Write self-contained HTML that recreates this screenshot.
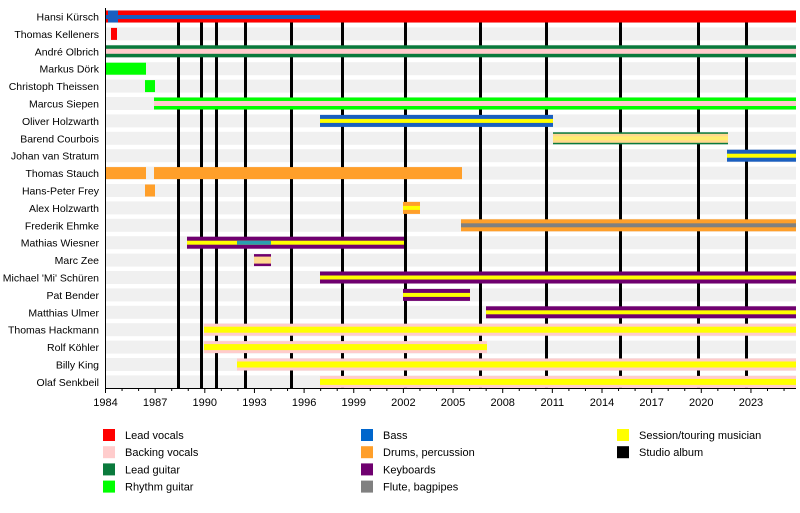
<!DOCTYPE html><html><head><style>body{margin:0;background:#fff}svg{display:block;font-family:"Liberation Sans",sans-serif}</style></head><body>
<svg width="800" height="513" xmlns="http://www.w3.org/2000/svg" id="s"></svg>
<script>
const s=document.getElementById('s');let h='';
const names=["Hansi Kürsch","Thomas Kelleners","André Olbrich","Markus Dörk","Christoph Theissen","Marcus Siepen","Oliver Holzwarth","Barend Courbois","Johan van Stratum","Thomas Stauch","Hans-Peter Frey","Alex Holzwarth","Frederik Ehmke","Mathias Wiesner","Marc Zee","Michael 'Mi' Schüren","Pat Bender","Matthias Ulmer","Thomas Hackmann","Rolf Köhler","Billy King","Olaf Senkbeil"];
const cy=i=>16.5+i*17.4;
names.forEach((n,i)=>{h+=`<rect x="105" y="${cy(i)-6.5}" width="691" height="13" fill="#f0f0f0"/>`;
h+=`<text x="99" y="${cy(i)+4}" font-size="10.5" text-anchor="end" fill="#000">${n}</text>`});
[178,201,216,245,291,342,405,480,546,620,698,746].forEach(x=>h+=`<rect x="${x-1}" y="22" width="3" height="366" fill="#000"/>`);
const C={r:"#ff0000",p:"#ffcccc",g:"#0a7a3c",lg:"#00ff00",b:"#1a5fc0",o:"#ff9f2a",pu:"#6f006f",gr:"#808080",y:"#ffff00",po:"#ffd890"};
function bar(i,x1,x2,c,inner,ih){const y=cy(i);h+=`<rect x="${x1}" y="${y-6}" width="${x2-x1}" height="12" fill="${C[c]}"/>`;
if(inner){ih=ih||4;h+=`<rect x="${x1}" y="${y-ih/2}" width="${x2-x1}" height="${ih}" fill="${C[inner]}"/>`}}
bar(0,105,796,'r');h+=`<rect x="105" y="${cy(0)-1.5}" width="215" height="4" fill="${C.b}"/><rect x="108" y="${cy(0)-6}" width="10" height="12" fill="${C.b}"/>`;
bar(1,111,117,'r');bar(2,105,796,'g','p',5);bar(3,105,146,'lg');bar(4,145,155,'lg');bar(5,154,796,'lg','p',5);
bar(6,320,553,'b','y');bar(7,553,728,'g','po',9);h+=`<rect x="553" y="${cy(7)-2}" width="175" height="4" fill="#ffee70"/>`;
bar(8,727,796,'b','y');bar(9,105,146,'o');bar(9,154,462,'o');bar(10,145,155,'o');bar(11,403,420,'o','y');
bar(12,461,796,'o','gr');bar(13,187,404,'pu','y');h+=`<rect x="237" y="${cy(13)-2}" width="34" height="4" fill="#2a9fb0"/>`;
bar(14,254,271,'pu','po',7);bar(15,320,796,'pu','y');bar(16,403,470,'pu','y');bar(17,486,796,'pu','y');
bar(18,204,796,'p','y',6);bar(19,204,487,'p','y',6);bar(20,237,796,'p','y',6);bar(21,320,796,'p','y',6);
const px=y=>105.5+(y-1984)*16.55;
h+=`<line x1="105.5" y1="8" x2="105.5" y2="388.5" stroke="#000"/><line x1="105" y1="388.5" x2="796" y2="388.5" stroke="#000"/>`;
for(let y=1984;y<=2025;y++){const x=px(y);h+=`<line x1="${x}" y1="388" x2="${x}" y2="${(y-1984)%3?391:393}" stroke="#000"/>`;
if((y-1984)%3==0)h+=`<text x="${x}" y="406" font-size="11" text-anchor="middle">${y}</text>`}
const L=[[103,"r","Lead vocals"],[103,"p","Backing vocals"],[103,"g","Lead guitar"],[103,"lg","Rhythm guitar"],[361,"b","Bass"],[361,"o","Drums, percussion"],[361,"pu","Keyboards"],[361,"gr","Flute, bagpipes"],[617,"y","Session/touring musician"],[617,"k","Studio album"]];
L.forEach((l,i)=>{const y=435+(i%4)*17.2;const c=l[1]=="k"?"#000":(l[1]=="b"?"#0066cc":C[l[1]]);
h+=`<rect x="${l[0]}" y="${y-6}" width="12" height="12" fill="${c}"/><text x="${l[0]+22}" y="${y+4}" font-size="11">${l[2]}</text>`});
s.innerHTML=h;
</script></body></html>
